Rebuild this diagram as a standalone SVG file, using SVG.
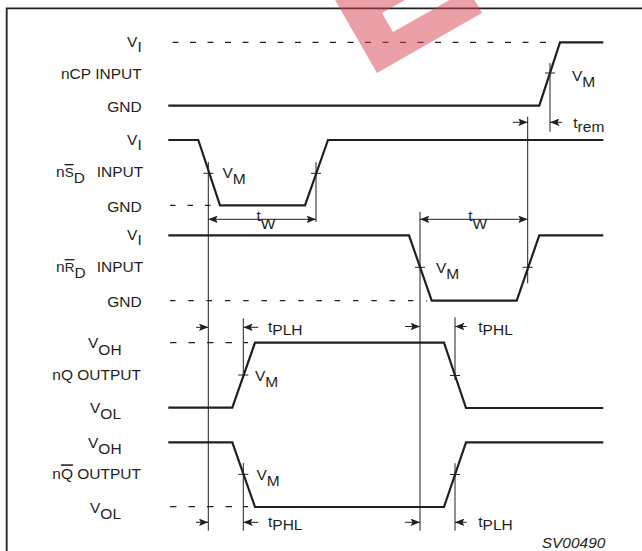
<svg xmlns="http://www.w3.org/2000/svg" width="642" height="551" viewBox="0 0 642 551">
<style>
.w{fill:none;stroke:#231f20;stroke-width:2.2;stroke-linejoin:miter}
.t{fill:none;stroke:#231f20;stroke-width:1}
.d{fill:none;stroke:#231f20;stroke-width:1.3;stroke-dasharray:6 11.5}
.a{fill:none;stroke:#231f20;stroke-width:1;marker-end:url(#ah)}
.aa{fill:none;stroke:#231f20;stroke-width:1;marker-end:url(#ah);marker-start:url(#ah)}
text{font-family:"Liberation Sans",Arial,Helvetica,sans-serif;font-size:15.5px;fill:#231f20}
.ov{text-decoration:overline}
</style>
<defs>
<marker id="ah" viewBox="0 0 10 8" refX="10" refY="4" markerWidth="10" markerHeight="7.5" markerUnits="userSpaceOnUse" orient="auto-start-reverse">
<path d="M0,0 L10,4 L0,8 L2,4 z" fill="#231f20"/>
</marker>
</defs>
<rect width="642" height="551" fill="#fff"/>
<path d="M6.7,551 V8.3 H642" fill="none" stroke="#231f20" stroke-width="1.8"/>

<g id="labels">
<text x="141.7" y="47" text-anchor="end">V<tspan dy="4.5">I</tspan></text>
<text x="141.7" y="79" text-anchor="end">nCP INPUT</text>
<text x="141.7" y="112" text-anchor="end">GND</text>
<text x="141.7" y="145" text-anchor="end">V<tspan dy="4.5">I</tspan></text>
<text x="56" y="177">n<tspan class="ov" font-size="13.5">S</tspan><tspan dy="6">D</tspan><tspan x="96.7" dy="-6">INPUT</tspan></text>
<text x="141.7" y="211.5" text-anchor="end">GND</text>
<text x="141.7" y="240" text-anchor="end">V<tspan dy="4.5">I</tspan></text>
<text x="56" y="272">n<tspan class="ov" font-size="13.5">R</tspan><tspan dy="6">D</tspan><tspan x="96.7" dy="-6">INPUT</tspan></text>
<text x="141.7" y="307" text-anchor="end">GND</text>
<text x="88" y="348.3">V<tspan dy="6.5">OH</tspan></text>
<text x="141" y="380" text-anchor="end">nQ OUTPUT</text>
<text x="90" y="413">V<tspan dy="6">OL</tspan></text>
<text x="88" y="447.5">V<tspan dy="6.5">OH</tspan></text>
<text x="141" y="479.3" text-anchor="end">n<tspan class="ov">Q</tspan> OUTPUT</text>
<text x="90" y="513">V<tspan dy="6">OL</tspan></text>
</g>

<g id="nCP">
<line class="d" x1="172.5" y1="42.3" x2="553" y2="42.3"/>
<polyline class="w" points="168.3,105.7 539.3,105.7 560,42.3 603.3,42.3"/>
<line class="t" x1="545" y1="73" x2="555" y2="73"/>
<text x="572" y="81">V<tspan dy="6">M</tspan></text>
</g>

<g id="nSD">
<polyline class="w" points="168.3,140 198.3,140 220,205.3 305,205.3 328,140 603.3,140"/>
<line class="d" x1="170" y1="205.3" x2="212" y2="205.3" style="stroke-dasharray:5.5 12"/>
<line class="t" x1="203.3" y1="173.3" x2="213.3" y2="173.3"/>
<line class="t" x1="311" y1="173.3" x2="321" y2="173.3"/>
<text x="222.5" y="178">V<tspan dy="6">M</tspan></text>
<text x="256.5" y="221">t<tspan dy="8">W</tspan></text>
</g>

<g id="nRD">
<polyline class="w" points="168.3,235.3 409,235.3 431.7,300.7 516.7,300.7 539.3,235.3 603.3,235.3"/>
<line class="d" x1="170" y1="300.7" x2="427" y2="300.7" style="stroke-dasharray:5.5 12.8"/>
<line class="t" x1="415" y1="267.3" x2="425" y2="267.3"/>
<line class="t" x1="522.7" y1="267.3" x2="532.7" y2="267.3"/>
<text x="436" y="272.5">V<tspan dy="6">M</tspan></text>
<text x="468.3" y="221">t<tspan dy="8">W</tspan></text>
</g>

<g id="nQ">
<line class="d" x1="170" y1="342.7" x2="248" y2="342.7" style="stroke-dasharray:6.5 12"/>
<polyline class="w" points="168.3,407.7 232.3,407.7 255,342.7 444,342.7 466,408 603.3,408"/>
<line class="t" x1="238.3" y1="375" x2="248.3" y2="375"/>
<line class="t" x1="450" y1="375.5" x2="460" y2="375.5"/>
<text x="255" y="381">V<tspan dy="6">M</tspan></text>
</g>

<g id="nQbar">
<line class="d" x1="170" y1="506.7" x2="248" y2="506.7" style="stroke-dasharray:6.5 12"/>
<polyline class="w" points="168.3,442.3 232.3,442.3 255,507 444,507 466,442.3 603.3,442.3"/>
<line class="t" x1="238.3" y1="474.3" x2="248.3" y2="474.3"/>
<line class="t" x1="450" y1="474.5" x2="460" y2="474.5"/>
<text x="256.5" y="480">V<tspan dy="6">M</tspan></text>
</g>

<g id="connectors">
<line class="t" x1="208.3" y1="162" x2="208.3" y2="530.7"/>
<line class="t" x1="316" y1="162" x2="316" y2="222"/>
<line class="t" x1="420" y1="211.7" x2="420" y2="530.7"/>
<line class="t" x1="527.7" y1="116.7" x2="527.7" y2="283.3"/>
<line class="t" x1="550" y1="63" x2="550" y2="131.7"/>
<line class="t" x1="243.3" y1="318.3" x2="243.3" y2="378"/>
<line class="t" x1="455" y1="317.3" x2="455" y2="380"/>
<line class="t" x1="243.3" y1="463" x2="243.3" y2="530.7"/>
<line class="t" x1="455" y1="463.3" x2="455" y2="530.7"/>
<line class="aa" x1="208.3" y1="219.3" x2="316" y2="219.3"/>
<line class="aa" x1="420" y1="219.3" x2="527.7" y2="219.3"/>
<line class="a" x1="513" y1="122.3" x2="527.7" y2="122.3"/>
<line class="a" x1="562" y1="122.3" x2="550" y2="122.3"/>
<line class="a" x1="196" y1="327.3" x2="208.3" y2="327.3"/>
<line class="a" x1="258.3" y1="327.3" x2="243.3" y2="327.3"/>
<line class="a" x1="405" y1="326.5" x2="420" y2="326.5"/>
<line class="a" x1="466.7" y1="326.5" x2="455" y2="326.5"/>
<line class="a" x1="196" y1="522.3" x2="208.3" y2="522.3"/>
<line class="a" x1="258.3" y1="522.3" x2="243.3" y2="522.3"/>
<line class="a" x1="405" y1="522.3" x2="420" y2="522.3"/>
<line class="a" x1="466.7" y1="522.3" x2="455" y2="522.3"/>
</g>

<g id="timing-labels">
<text x="573.3" y="128">t<tspan dy="4">rem</tspan></text>
<text x="268" y="331.5">t<tspan dy="3.5">PLH</tspan></text>
<text x="478.3" y="331.5">t<tspan dy="3.5">PHL</tspan></text>
<text x="268" y="526.5">t<tspan dy="3.5">PHL</tspan></text>
<text x="478.3" y="526.5">t<tspan dy="3.5">PLH</tspan></text>
<text x="541.7" y="548" font-style="italic" font-size="15">SV00490</text>
</g>

<path id="watermark" d="M335,0 L377,73 L482,13 L474.5,0 Z M382,13 L393,32 L469,-11 L458,-30 Z" fill="#d7414f" fill-opacity="0.5" fill-rule="evenodd"/>
</svg>
